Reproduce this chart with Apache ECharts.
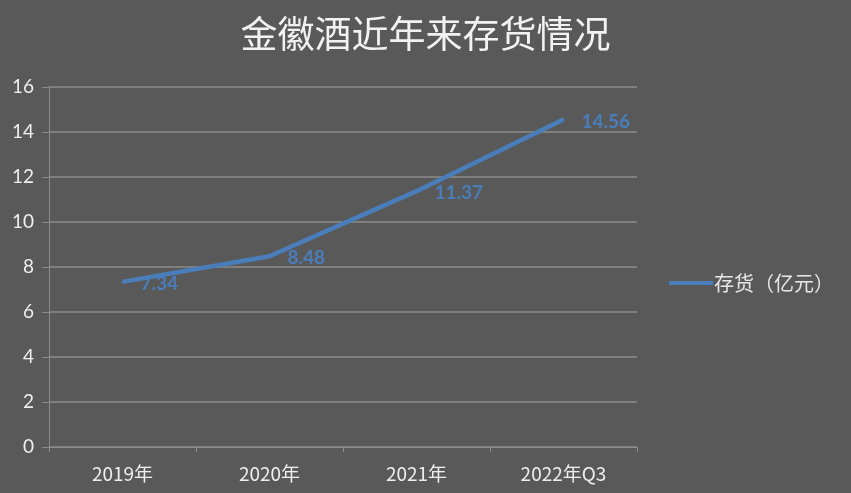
<!DOCTYPE html>
<html><head><meta charset="utf-8">
<script src="https://cdn.jsdelivr.net/npm/echarts@6/dist/echarts.min.js"></script>
<style>html,body{margin:0;padding:0;background:#595959}#c{width:851px;height:493px}</style>
</head><body><div id="c"></div>
<script>
var categories = ['2019年', '2020年', '2021年', '2022年Q3'];
var inventory = [7.34, 8.48, 11.37, 14.56];
var seriesName = '存货（亿元）';
var titleText = '金徽酒近年来存货情况';

var chart = echarts.init(document.getElementById('c'));
chart.setOption({
  backgroundColor: '#595959',
  animation: false,
  title: {
    text: titleText, left: 'center', top: 10,
    textStyle: { color: '#f2f2f2', fontSize: 37, fontWeight: 'normal', fontFamily: 'Noto Sans CJK SC' }
  },
  legend: {
    data: [seriesName], orient: 'vertical', left: 664, top: 268,
    itemWidth: 44, itemHeight: 4, itemGap: 4,
    icon: 'rect',
    textStyle: { color: '#e6e6e6', fontSize: 20, fontFamily: 'Noto Sans CJK SC', padding: [0,0,0,-4] }
  },
  grid: { left: 49, top: 87, width: 588, height: 360, containLabel: false },
  xAxis: {
    type: 'category', data: categories, boundaryGap: true,
    axisLine: { lineStyle: { color: '#8c8c8c', width: 1 } },
    axisTick: { show: true, length: 5, lineStyle: { color: '#8c8c8c' } },
    axisLabel: { color: '#eeeeee', fontSize: 19, margin: 17, fontFamily: 'Noto Sans CJK SC' }
  },
  yAxis: {
    type: 'value', min: 0, max: 16, interval: 2,
    axisLine: { show: true, lineStyle: { color: '#8c8c8c' } },
    axisTick: { show: true, length: 7, lineStyle: { color: '#8c8c8c' } },
    splitLine: { lineStyle: { color: '#8c8c8c', width: 1.5 } },
    axisLabel: { color: '#eeeeee', fontSize: 19, margin: 15, fontFamily: 'Lato' }
  },
  series: [{
    name: seriesName, type: 'line', data: inventory,
    showSymbol: true, symbol: 'circle', symbolSize: 2,
    lineStyle: { color: '#4a7ebb', width: 4.5 },
    itemStyle: { color: '#4a7ebb' },
    emphasis: { disabled: true },
    label: {
      show: true, position: 'right', distance: 17, offset: [0, 2],
      color: '#4a7ebb', fontSize: 19, fontWeight: 'bold', fontFamily: 'Lato'
    }
  }]
});
</script></body></html>
